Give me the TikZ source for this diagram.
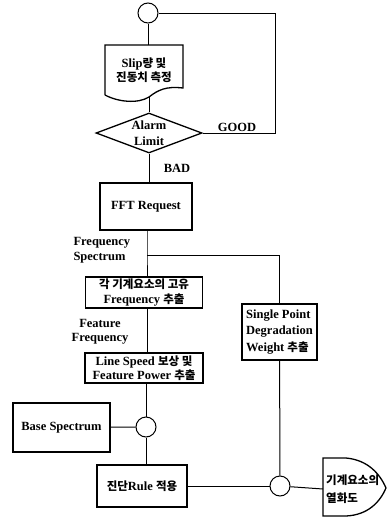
\documentclass[tikz,border=0pt]{standalone}
\usepackage{fontspec}
\setmainfont{Liberation Serif}
\newfontfamily\krfont[Scale=0.92]{Noto Sans CJK KR}
\newcommand{\kr}[1]{{\krfont\bfseries #1}}
\usetikzlibrary{positioning, shapes.geometric, calc}

\begin{document}
\begin{tikzpicture}[x=1pt, y=-1pt, node distance=2cm,
    every node/.style={font=\bfseries\fontsize{12.5}{14.5}\selectfont},
    block/.style={draw, line width=1.3pt, align=center, inner sep=2pt},
    junction/.style={circle, draw, line width=1pt, minimum size=20pt, inner sep=0pt},
    flow/.style={line width=1pt}]
            \useasboundingbox (0,0) rectangle (388,517);

            % main column
            \node[junction] (start) at (148,13) {};
            \node[align=center, minimum width=78pt, minimum height=50pt, inner sep=0pt] (meas) at (144,70) {Slip\kr{량 및}\\\kr{진동치 측정}};
            \draw[line width=1.3pt] (105,95) -- (105,45) -- (183,45) -- (183,88)
                .. controls (166,86) and (158,90) .. (149,97)
                .. controls (138,104) and (118,102) .. (105,95);
            \coordinate (measb) at (149,97);
            \node[diamond, draw, line width=1.3pt, aspect=2.65, minimum width=106pt, minimum height=40pt, inner sep=0pt, align=center] (alarm) at (149,133) {Alarm\\[1pt]Limit};
            \node[block, minimum width=92pt, minimum height=47pt] (fft) at (146,206.5) {FFT Request};
            \node[block, minimum width=117pt, minimum height=31pt] (freq) at (144,292.5) {\kr{각 기계요소의 고유}\\Frequency \kr{추출}};
            \node[block, minimum width=118pt, minimum height=30pt] (lspeed) at (144,368) {Line Speed \kr{보상 및}\\Feature Power \kr{추출}};
            \node[junction] (j1) at (146,427) {};
            \node[block, minimum width=90pt, minimum height=42pt] (rule) at (142,486) {\kr{진단}Rule \kr{적용}};

            % side blocks
            \node[block, minimum width=97pt, minimum height=49pt] (base) at (61.5,427.5) {Base Spectrum};
            \node[block, align=left, minimum width=75pt, minimum height=56pt, inner sep=1.5pt] (single) at (279.5,332) {Single Point\\[2pt]Degradation\\[2pt]Weight \kr{추출}};
            \node[junction] (j2) at (280,486) {};
            \node[align=left, anchor=west, inner sep=3pt] (out) at (323,489) {\kr{기계요소의}\\[3pt]\kr{열화도}};
            \draw[line width=1.3pt] (323,458) -- (346,458) .. controls (368,460) and (380,474) .. (386,488)
                .. controls (380,502) and (368,515) .. (346,516) -- (323,516) -- cycle;

            % labels
            \node (good) at (237,127) {GOOD};
            \node (bad) at (177,168) {BAD};
            \node[align=left, anchor=west] (fslbl) at (70,250) {Frequency\\Spectrum};
            \node[align=center] (fflbl) at (100,332) {Feature\\Frequency};

            % connectors
            \coordinate (loop) at (275,133);
            \coordinate (br) at (147,255);
            \draw[flow] (start) -- (start |- meas.north);
            \draw[flow] (measb) -- (alarm.north);
            \draw[flow] (alarm.east) -- (loop) |- (start.east);
            \draw[flow] (alarm.south) -- (alarm.south |- fft.north);
            \draw[flow] (fft.south -| br) -- (br) -- (br |- freq.north);
            \draw[flow] (br) -| (single.north);
            \draw[flow] (freq.south -| br) -- (br |- lspeed.north);
            \draw[flow] (lspeed.south -| j1) -- (j1);
            \draw[flow] (base) -- (j1);
            \draw[flow] (j1) -- (j1 |- rule.north);
            \draw[flow] (single) -- (j2);
            \draw[flow] (rule) -- (j2);
            \draw[flow] (j2) -- (out.west);
        \end{tikzpicture}
\end{document}
